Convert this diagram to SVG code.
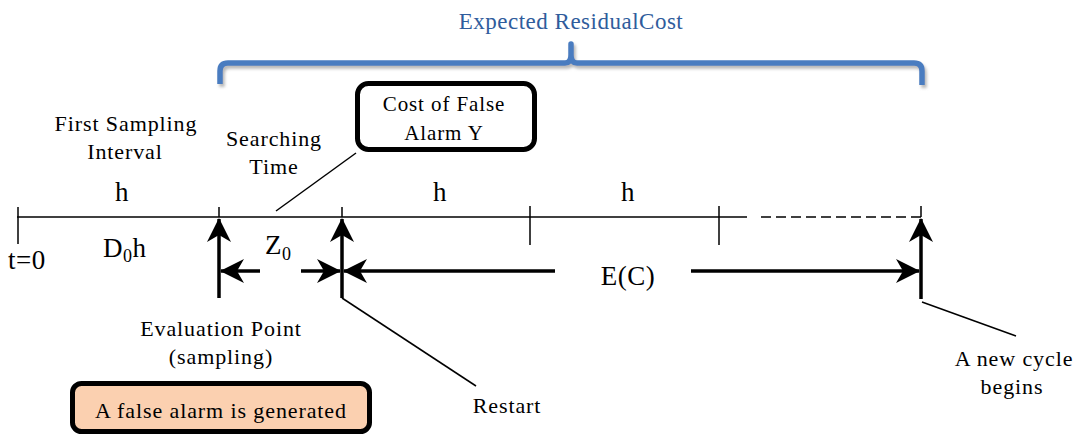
<svg xmlns="http://www.w3.org/2000/svg" width="1075" height="436" viewBox="0 0 1075 436">
<defs>
<marker id="ah" markerUnits="userSpaceOnUse" markerWidth="30" markerHeight="30" viewBox="-26 -14 30 28" refX="0" refY="0" orient="auto">
<path d="M1,0 L-23,-12 L-16,0 L-23,12 Z" fill="#000"/>
</marker>
<filter id="sh" x="-5%" y="-50%" width="110%" height="200%">
<feDropShadow dx="2" dy="3" stdDeviation="1.5" flood-color="#888" flood-opacity="0.6"/>
</filter>
</defs>
<style>
text{font-family:"Liberation Serif","Times New Roman",serif;fill:#000}
.t22{font-size:22px;letter-spacing:0.9px}
.t27{font-size:27px;letter-spacing:0.5px}
.thin{stroke:#000;stroke-width:1.5;fill:none}
.arr{stroke:#000;stroke-width:3.5;fill:none;marker-end:url(#ah)}
</style>
<rect width="1075" height="436" fill="#fff"/>

<g id="bracket">
<path d="M220,84 V71 Q220,63 228,63 H565 Q571,63 571,55 V44 V55 Q571,63 577,63 H914 Q922,63 922,71 V85" fill="none" stroke="#4a7cc0" stroke-width="5.5" stroke-linejoin="round" filter="url(#sh)"/>
<text x="571" y="29" text-anchor="middle" style="font-size:23px;letter-spacing:0.5px;fill:#2f5c9c">Expected ResidualCost</text>
</g>

<g id="timeline">
<line class="thin" x1="17" y1="217" x2="747" y2="217"/>
<line class="thin" x1="761" y1="217" x2="921" y2="217" stroke-dasharray="10,5"/>
<line class="thin" x1="18" y1="207" x2="18" y2="244"/>
<line class="thin" x1="219" y1="207" x2="219" y2="217"/>
<line class="thin" x1="342" y1="207" x2="342" y2="217"/>
<line class="thin" x1="530" y1="206" x2="530" y2="245"/>
<line class="thin" x1="719" y1="206" x2="719" y2="245"/>
<line class="thin" x1="921" y1="206" x2="921" y2="217"/>
<text class="t27" x="122" y="201" text-anchor="middle">h</text>
<text class="t27" x="440" y="201" text-anchor="middle">h</text>
<text class="t27" x="628" y="201" text-anchor="middle">h</text>
<text class="t27" x="8" y="269">t=0</text>
<text class="t27" x="103" y="257">D<tspan font-size="18" dy="5">0</tspan><tspan dy="-5">h</tspan></text>
<text class="t27" x="265" y="254">Z<tspan font-size="18" dy="6">0</tspan></text>
<text class="t27" x="628" y="285" text-anchor="middle">E(C)</text>
</g>

<g id="first-sampling">
<text class="t22" x="126" y="131" text-anchor="middle">First Sampling</text>
<text class="t22" x="125" y="159" text-anchor="middle">Interval</text>
</g>

<g id="searching-time">
<text class="t22" x="274" y="146" text-anchor="middle">Searching</text>
<text class="t22" x="274" y="174" text-anchor="middle">Time</text>
</g>

<g id="cost-box">
<rect x="357.5" y="83.5" width="177" height="66" rx="11" fill="#fff" stroke="#000" stroke-width="5"/>
<text class="t22" x="444" y="111" text-anchor="middle" style="font-size:21px">Cost of False</text>
<text class="t22" x="444" y="140" text-anchor="middle" style="font-size:21px">Alarm Y</text>
</g>

<g id="evaluation-point">
<text class="t22" x="221" y="336" text-anchor="middle">Evaluation Point</text>
<text class="t22" x="221" y="364" text-anchor="middle">(sampling)</text>
</g>

<g id="restart">
<text class="t22" x="507" y="413" text-anchor="middle">Restart</text>
</g>

<g id="new-cycle">
<text class="t22" x="1014" y="366" text-anchor="middle">A new cycle</text>
<text class="t22" x="1012" y="394" text-anchor="middle">begins</text>
</g>

<g id="false-alarm-box">
<rect x="72.5" y="383.5" width="297" height="48" rx="9" fill="#fbd0b0" stroke="#000" stroke-width="5"/>
<text class="t22" x="221" y="418" text-anchor="middle">A false alarm is generated</text>
</g>

<g id="connectors">
<line class="arr" x1="219" y1="298" x2="219" y2="219"/>
<line class="arr" x1="342" y1="298" x2="342" y2="219"/>
<line class="arr" x1="921" y1="299" x2="921" y2="219"/>
<line class="arr" x1="260" y1="271" x2="221" y2="271"/>
<line class="arr" x1="301" y1="271" x2="340" y2="271"/>
<line class="arr" x1="555" y1="271" x2="344" y2="271"/>
<line class="arr" x1="691" y1="271" x2="919" y2="271"/>
<line class="thin" x1="356" y1="153" x2="276" y2="211"/>
<line class="thin" x1="342" y1="298" x2="476" y2="386"/>
<line class="thin" x1="922" y1="302" x2="1016" y2="336"/>
</g>
</svg>
